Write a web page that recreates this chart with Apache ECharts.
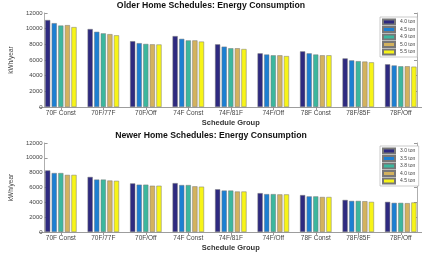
<!DOCTYPE html>
<html lang="en">
<head>
  <meta charset="UTF-8">
  <title>Home Schedules: Energy Consumption</title>
  <style>
    html, body { margin: 0; padding: 0; background: #fff; }
    #chart { width: 422px; height: 253px; }
  </style>
</head>
<body>
  <div id="chart"></div>
</body>
</html>
<script src="https://cdn.jsdelivr.net/npm/echarts@6/dist/echarts.min.js"></script>
<script type="text/javascript">
  // 分组
  var categories = ['70F Const', '70F/77F', '70F/Off', '74F Const', '74F/81F', '74F/Off', '78F Const', '78F/85F', '78F/Off'];
  var yTicks = [0, 2000, 4000, 6000, 8000, 10000, 12000];

  // Older home
  var olderSizes = ['4.0 ton', '4.5 ton', '4.9 ton', '5.0 ton', '5.5 ton'];
  var older40 = [11100, 9950, 8400, 9050, 8000, 6850, 7100, 6200, 5450];
  var older45 = [10700, 9600, 8150, 8700, 7700, 6700, 6850, 5950, 5300];
  var older49 = [10400, 9400, 8050, 8500, 7500, 6600, 6700, 5850, 5200];
  var older50 = [10450, 9300, 8000, 8500, 7500, 6600, 6600, 5800, 5200];
  var older55 = [10200, 9150, 7980, 8350, 7400, 6500, 6600, 5700, 5150];

  // Newer home
  var newerSizes = ['3.0 ton', '3.5 ton', '3.8 ton', '4.0 ton', '4.5 ton'];
  var newer30 = [8300, 7420, 6550, 6590, 5760, 5240, 4980, 4320, 4060];
  var newer35 = [7950, 7070, 6380, 6330, 5590, 5110, 4800, 4190, 3930];
  var newer38 = [7950, 7070, 6380, 6330, 5590, 5110, 4800, 4190, 3930];
  var newer40 = [7700, 6940, 6240, 6160, 5460, 5070, 4720, 4150, 3890];
  var newer45 = [7700, 6900, 6240, 6110, 5460, 5070, 4720, 4060, 3980];

  var colors = ['#2E2A80', '#1C7FD2', '#3CB79E', '#D3B25E', '#F7F418'];

  var olderData = [older40, older45, older49, older50, older55];
  var newerData = [newer30, newer35, newer38, newer40, newer45];
  // newer names get a trailing space so the two legends don't share "4.0 ton"
  var newerNames = newerSizes.map(function (s) { return s + ' '; });

  var myChart = echarts.init(document.getElementById('chart'));

  function xAx(gridIndex, top) {
    return {
      type: 'category',
      gridIndex: gridIndex,
      position: top ? 'top' : 'bottom',
      data: categories,
      name: top ? '' : 'Schedule Group',
      nameLocation: 'middle',
      nameGap: 12,
      nameTextStyle: { fontSize: 7.5, fontWeight: 'bold', color: '#333', fontFamily: 'Liberation Sans' },
      axisLine: { show: true, lineStyle: { color: '#999', width: 0.8 } },
      axisTick: { show: true, inside: true, alignWithLabel: true, length: 3, lineStyle: { color: '#999' } },
      axisLabel: { show: !top, interval: 0, fontSize: 6.5, margin: 3, color: '#444', fontFamily: 'Liberation Sans' },
      splitLine: { show: false }
    };
  }

  function yAx(gridIndex, right) {
    return {
      type: 'value',
      gridIndex: gridIndex,
      position: right ? 'right' : 'left',
      offset: -5,
      min: yTicks[0],
      max: yTicks[yTicks.length - 1],
      interval: 2000,
      name: right ? '' : 'kWh/year',
      nameLocation: 'middle',
      nameGap: 17,
      nameTextStyle: { fontSize: 6.5, color: '#444', fontFamily: 'Liberation Sans' },
      axisLine: { show: true, lineStyle: { color: '#999', width: 0.8 } },
      axisTick: { show: true, inside: true, length: 3, lineStyle: { color: '#999' } },
      axisLabel: {
        show: !right, fontSize: 6, margin: 2, color: '#444', fontFamily: 'Liberation Sans',
        formatter: function (v) { return String(v); }
      },
      splitLine: { show: false }
    };
  }

  var series = [];
  olderSizes.forEach(function (name, i) {
    series.push({
      name: name, type: 'bar', xAxisIndex: 0, yAxisIndex: 0,
      data: olderData[i], barCategoryGap: '26%', barGap: '28%',
      itemStyle: { color: colors[i], borderColor: '#777', borderWidth: 0.5 }
    });
  });
  newerNames.forEach(function (name, i) {
    series.push({
      name: name, type: 'bar', xAxisIndex: 2, yAxisIndex: 2,
      data: newerData[i], barCategoryGap: '26%', barGap: '28%',
      itemStyle: { color: colors[i], borderColor: '#777', borderWidth: 0.5 }
    });
  });

  function legendOf(names, top) {
    return {
      data: names,
      orient: 'vertical',
      left: 380,
      top: top,
      itemWidth: 12,
      itemHeight: 5,
      itemGap: 0.5,
      padding: [1.5, 2, 1.5, 2],
      backgroundColor: '#fff',
      borderColor: '#aaa',
      borderWidth: 0.6,
      borderRadius: 0,
      icon: 'rect',
      textStyle: { fontSize: 5, color: '#444', fontFamily: 'Liberation Sans', padding: 0 },
      z: 10
    };
  }

  var option = {
    animation: false,
    textStyle: { fontFamily: 'Liberation Sans' },
    title: [
      { text: 'Older Home Schedules: Energy Consumption', left: 'center', top: 1, padding: 0,
        textStyle: { fontSize: 8.7, fontWeight: 'bold', color: '#111', fontFamily: 'Liberation Sans' } },
      { text: 'Newer Home Schedules: Energy Consumption', left: 'center', top: 131, padding: 0,
        textStyle: { fontSize: 8.7, fontWeight: 'bold', color: '#111', fontFamily: 'Liberation Sans' } }
    ],
    legend: [legendOf(olderSizes, 17), legendOf(newerNames, 146)],
    grid: [
      { left: 21, right: 0, top: 13, bottom: 146 },
      { left: 21, right: 0, top: 143, bottom: 18 }
    ],
    xAxis: [xAx(0, false), xAx(0, true), xAx(1, false), xAx(1, true)],
    yAxis: [yAx(0, false), yAx(0, true), yAx(1, false), yAx(1, true)],
    series: series
  };
  myChart.setOption(option);
</script>
